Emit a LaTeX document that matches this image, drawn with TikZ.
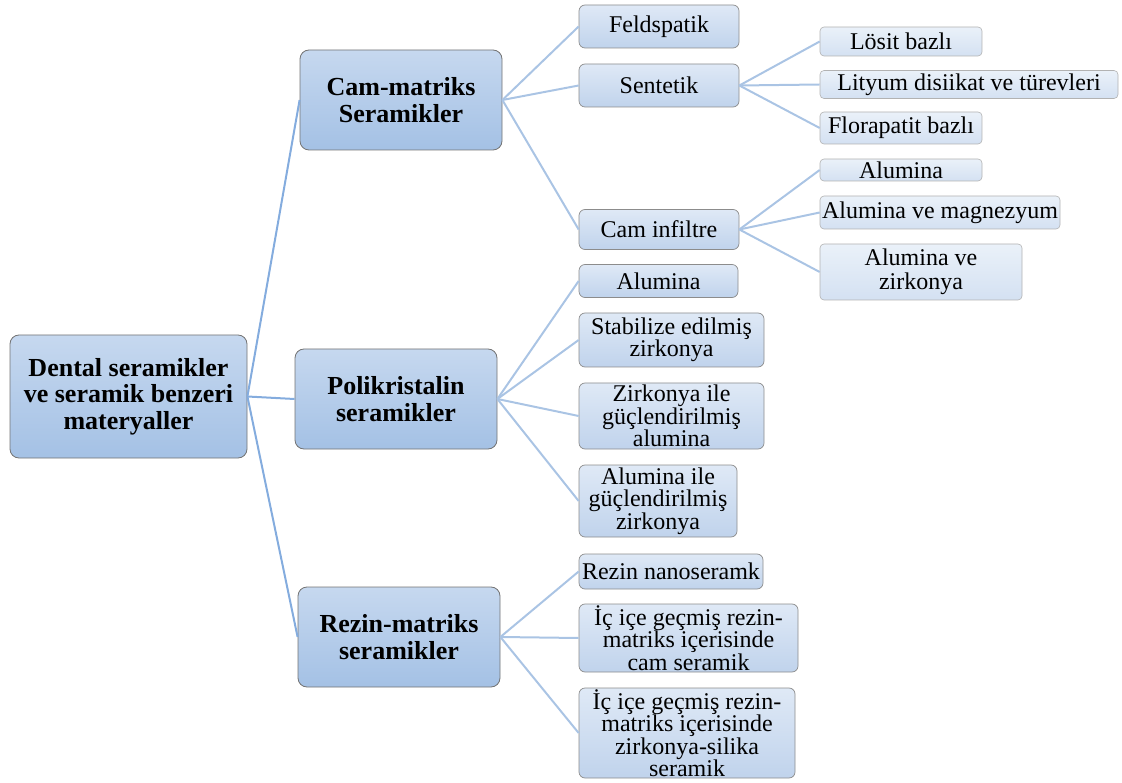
\documentclass[tikz,border=0pt]{standalone}
\usepackage{fontspec}
\setmainfont{Liberation Serif}
\definecolor{topA}{RGB}{198,216,239}
\definecolor{botA}{RGB}{164,193,229}
\definecolor{topB}{RGB}{223,233,246}
\definecolor{botB}{RGB}{192,211,236}
\definecolor{topC}{RGB}{234,241,249}
\definecolor{botC}{RGB}{212,225,242}
\definecolor{lineA}{RGB}{132,172,222}
\definecolor{lineB}{RGB}{170,196,228}

\begin{document}
\begin{tikzpicture}[x=1pt,y=-1pt,
	box/.style={rectangle,rounded corners=6pt,align=center,inner sep=0pt},
	main/.style={box,draw=black!55,line width=0.8pt,top color=topA,bottom color=botA,
		font=\fontsize{26}{26.5}\selectfont\bfseries,rounded corners=9pt},
	sub/.style={box,draw=black!45,line width=0.7pt,top color=topB,bottom color=botB,
		font=\fontsize{24}{22.5}\selectfont},
	leaf/.style={box,draw=black!30,line width=0.6pt,top color=topC,bottom color=botC,
		font=\fontsize{24}{24}\selectfont,rounded corners=4pt},
	lnk/.style={draw=lineA,line width=2pt},
	lnkb/.style={draw=lineB,line width=2pt}]
	\useasboundingbox (0,0) rectangle (1122,783);
	% root and first level
	\node[main,minimum width=237pt,minimum height=123pt] (root) at (128.5,396.5) {Dental seramikler\\ve seramik benzeri\\materyaller};
	\node[main,minimum width=202pt,minimum height=100pt] (cam) at (401,100) {Cam-matriks\\Seramikler};
	\node[main,minimum width=202pt,minimum height=100pt] (poli) at (396,399) {Polikristalin\\seramikler};
	\node[main,minimum width=202pt,minimum height=100pt] (rez) at (399,637) {Rezin-matriks\\seramikler};
	% second level
	\node[sub,minimum width=160pt,minimum height=43pt] (feld) at (659,26.5) {Feldspatik};
	\node[sub,minimum width=160pt,minimum height=43pt] (sent) at (659,85.5) {Sentetik};
	\node[sub,minimum width=160pt,minimum height=40pt] (caminf) at (659,229.5) {Cam infiltre};
	\node[sub,minimum width=159pt,minimum height=33pt] (aluA) at (658.5,281) {Alumina};
	\node[sub,minimum width=185pt,minimum height=54pt] (stab) at (671.5,340) {Stabilize edilmiş\\zirkonya};
	\node[sub,minimum width=185pt,minimum height=66pt] (zirile) at (671.5,416) {Zirkonya ile\\güçlendirilmiş\\alumina};
	\node[sub,minimum width=158pt,minimum height=72pt] (aluile) at (658,501) {Alumina ile\\güçlendirilmiş\\zirkonya};
	\node[sub,minimum width=184pt,minimum height=35pt] (nano) at (671,571.5) {Rezin nanoseramk};
	\node[sub,minimum width=219pt,minimum height=68pt] (iciceA) at (688.5,638) {İç içe geçmiş rezin-\\matriks içerisinde\\cam seramik};
	\node[sub,minimum width=216pt,minimum height=90pt] (iciceB) at (687,733) {İç içe geçmiş rezin-\\matriks içerisinde\\zirkonya-silika\\seramik};
	% third level
	\node[leaf,minimum width=162pt,minimum height=29pt] (losit) at (901,41.5) {Lösit bazlı};
	\node[leaf,minimum width=298pt,minimum height=28pt] (lityum) at (969,84.5) {Lityum disiikat ve türevleri};
	\node[leaf,minimum width=162pt,minimum height=32pt] (flor) at (901,128) {Florapatit bazlı};
	\node[leaf,minimum width=162pt,minimum height=22pt] (aluB) at (901,170) {Alumina};
	\node[leaf,minimum width=240pt,minimum height=33pt] (alumag) at (940,212.5) {Alumina ve magnezyum};
	\node[leaf,minimum width=202pt,minimum height=56pt] (aluzir) at (921,272) {Alumina ve\\zirkonya};
	% connectors
	\foreach \n in {cam,poli,rez}
		\draw[lnk] (root.east) -- (\n.west);
	\foreach \n in {feld,sent,caminf}
		\draw[lnkb] (cam.east) -- (\n.west);
	\foreach \n in {aluA,stab,zirile,aluile}
		\draw[lnkb] (poli.east) -- (\n.west);
	\foreach \n in {nano,iciceA,iciceB}
		\draw[lnkb] (rez.east) -- (\n.west);
	\foreach \n in {losit,lityum,flor}
		\draw[lnkb] (sent.east) -- (\n.west);
	\foreach \n in {aluB,alumag,aluzir}
		\draw[lnkb] (caminf.east) -- (\n.west);
\end{tikzpicture}
\end{document}
